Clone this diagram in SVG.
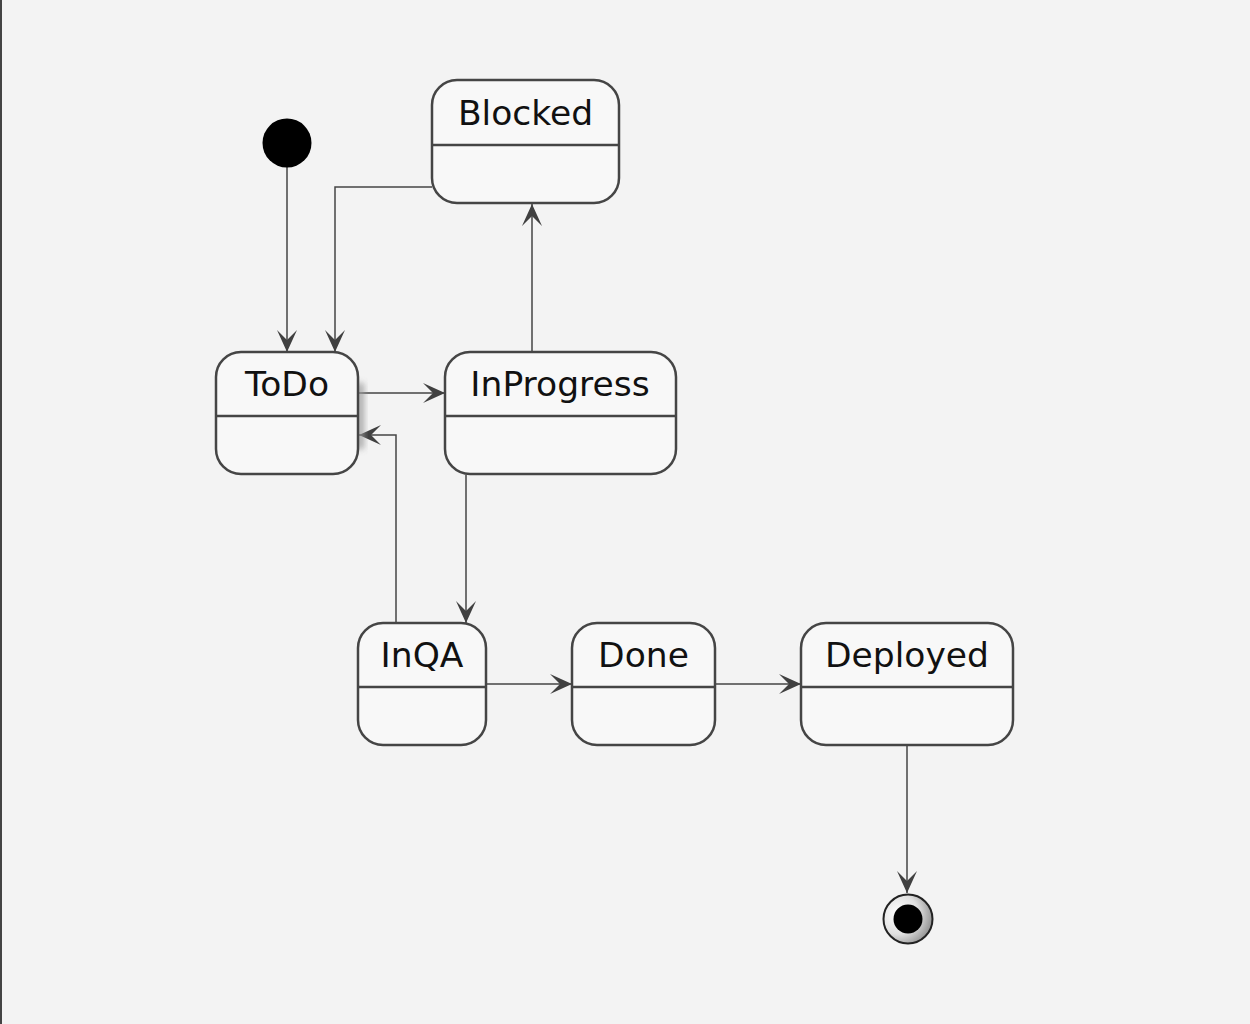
<svg xmlns="http://www.w3.org/2000/svg" width="1250" height="1024" viewBox="0 0 1250 1024">
<defs>
<style>
.st{fill:#f8f8f8;stroke:#454545;stroke-width:2.5}
.dv{stroke:#454545;stroke-width:2.5;fill:none}
.lb{font-family:"DejaVu Sans",sans-serif;font-size:34.5px;fill:#111;text-anchor:middle}
.cn{fill:none;stroke:#454545;stroke-width:1.5}
</style>
<marker id="ah" markerUnits="userSpaceOnUse" viewBox="-23 -11 24 22" refX="0" refY="0" markerWidth="24" markerHeight="22" orient="auto">
<path d="M0,0 L-22,-10 L-12,0 L-22,10 Z" fill="#404040"/>
</marker>
<radialGradient id="eg" cx="0.3" cy="0.4" r="0.75">
<stop offset="0" stop-color="#ffffff"/>
<stop offset="0.55" stop-color="#e0e0e0"/>
<stop offset="1" stop-color="#8a8a8a"/>
</radialGradient>
<filter id="sh" x="-50%" y="-50%" width="200%" height="200%">
<feGaussianBlur stdDeviation="3"/>
</filter>
</defs>
<rect width="1250" height="1024" fill="#f3f3f3"/>
<rect x="0" y="0" width="2" height="1024" fill="#444"/>

<g id="connectors">
<path class="cn" d="M287,167 L287,352" marker-end="url(#ah)"/>
<path class="cn" d="M432,187 L335,187 L335,352" marker-end="url(#ah)"/>
<path class="cn" d="M532,352 L532,204" marker-end="url(#ah)"/>
<path class="cn" d="M359,393 L445,393" marker-end="url(#ah)"/>
<path class="cn" d="M396,623 L396,435 L359,435" marker-end="url(#ah)"/>
<path class="cn" d="M466,475 L466,623" marker-end="url(#ah)"/>
<path class="cn" d="M486,684 L572,684" marker-end="url(#ah)"/>
<path class="cn" d="M715,684 L801,684" marker-end="url(#ah)"/>
<path class="cn" d="M907,746 L907,893" marker-end="url(#ah)"/>
</g>

<g id="start">
<circle cx="287" cy="143" r="24.5" fill="#000"/>
</g>

<g id="Blocked">
<rect class="st" x="432" y="80" width="187" height="123" rx="25"/>
<line class="dv" x1="432" y1="145" x2="619" y2="145"/>
<text class="lb" x="525.5" y="125">Blocked</text>
</g>

<g id="ToDo">
<rect x="356" y="383" width="8" height="66" fill="#999" filter="url(#sh)" opacity="0.8"/>
<rect class="st" x="216" y="352" width="142" height="122" rx="25"/>
<line class="dv" x1="216" y1="416" x2="358" y2="416"/>
<text class="lb" x="287" y="396">ToDo</text>
</g>

<g id="InProgress">
<rect class="st" x="445" y="352" width="231" height="122" rx="25"/>
<line class="dv" x1="445" y1="416" x2="676" y2="416"/>
<text class="lb" x="560" y="396">InProgress</text>
</g>

<g id="InQA">
<rect class="st" x="358" y="623" width="128" height="122" rx="25"/>
<line class="dv" x1="358" y1="687" x2="486" y2="687"/>
<text class="lb" x="422" y="667">InQA</text>
</g>

<g id="Done">
<rect class="st" x="572" y="623" width="143" height="122" rx="25"/>
<line class="dv" x1="572" y1="687" x2="715" y2="687"/>
<text class="lb" x="643.5" y="667">Done</text>
</g>

<g id="Deployed">
<rect class="st" x="801" y="623" width="212" height="122" rx="25"/>
<line class="dv" x1="801" y1="687" x2="1013" y2="687"/>
<text class="lb" x="907" y="667">Deployed</text>
</g>

<g id="end">
<circle cx="908" cy="919" r="24.5" fill="url(#eg)" stroke="#222" stroke-width="2"/>
<circle cx="908" cy="919" r="14.5" fill="#000"/>
</g>
</svg>
